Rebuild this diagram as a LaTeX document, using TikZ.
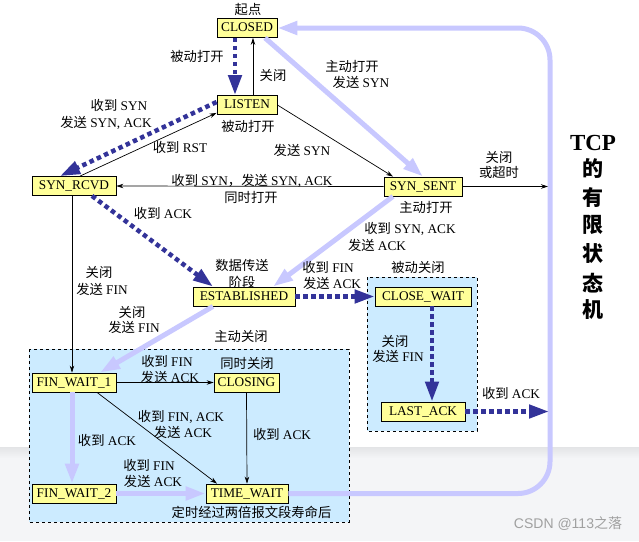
\documentclass[tikz,border=0pt]{standalone}
\usepackage{fontspec}
\setmainfont{Liberation Serif}
\newfontfamily\cjk{Noto Sans CJK SC}
\newfontfamily\wmsans{Liberation Sans}
\usetikzlibrary{arrows.meta}
\definecolor{lav}{HTML}{C8C8FF}
\definecolor{dblue}{HTML}{333399}
\definecolor{boxfill}{HTML}{FFFF99}
\definecolor{zonefill}{HTML}{CCEBFF}
\definecolor{bandgrey}{HTML}{F4F5F7}
\definecolor{banddark}{HTML}{E3E4E6}
\definecolor{wmgrey}{HTML}{A0A0A0}
\newcommand{\zh}[1]{{\cjk #1}}
\begin{document}
\begin{tikzpicture}[x=1pt,y=-1pt,
  state/.style={draw=black, fill=boxfill, line width=0.8pt, minimum height=19pt,
    inner sep=0pt, font=\fontsize{13.3}{15}\selectfont, text height=10pt, text depth=3pt},
  lbl/.style={inner sep=0pt, font=\fontsize{13.3}{15}\selectfont, text height=11pt, text depth=2pt},
  title/.style={inner sep=0pt, font=\fontsize{21}{24}\selectfont\bfseries},
  tline/.style={draw=black, line width=0.7pt, -{Stealth[length=7pt,width=4.5pt]}},
  pas/.style={draw=lav, line width=5pt, -{Triangle[length=20pt,width=13pt]}},
  act/.style={draw=dblue, line width=4.5pt, dash pattern=on 4.5pt off 3.5pt, -{Triangle[length=20pt,width=13pt]}},
  zone/.style={draw=black, fill=zonefill, dashed, line width=0.7pt}
]
\useasboundingbox (0,0) rectangle (639,541);
% background
\fill[white] (0,0) rectangle (639,541);
\fill[bandgrey] (0,447) rectangle (639,541);
\shade[top color=banddark, bottom color=bandgrey] (0,447) rectangle (639,458);
% zones
\draw[zone] (29,349) rectangle (349,522);
\draw[zone] (367,277) rectangle (477,431);

% labels placed under boxes
\node[lbl] (lDS1) at (242,266) {\zh{数据传送}};
\node[lbl] (lDS2) at (242,283) {\zh{阶段}};

% states
\node[state, minimum width=60pt] (CLOSED) at (247,28) {CLOSED};
\node[state, minimum width=60pt] (LISTEN) at (247,105) {LISTEN};
\node[state, minimum width=84pt] (SYNR) at (74,186) {SYN\_RCVD};
\node[state, minimum width=78pt] (SYNS) at (423,186.5) {SYN\_SENT};
\node[state, minimum width=102pt] (EST) at (244,296.5) {ESTABLISHED};
\node[state, minimum width=96pt] (CW) at (423,296.5) {CLOSE\_WAIT};
\node[state, minimum width=84pt] (LA) at (423,411.5) {LAST\_ACK};
\node[state, minimum width=84pt] (FW1) at (74,382.5) {FIN\_WAIT\_1};
\node[state, minimum width=65pt] (CLOSING) at (246.5,382.5) {CLOSING};
\node[state, minimum width=84pt] (FW2) at (74,493.5) {FIN\_WAIT\_2};
\node[state, minimum width=82pt] (TW) at (247,493.5) {TIME\_WAIT};

\coordinate (ssend) at (548,186.5);
\coordinate (laend) at (549,411.5);

% passive (light blue) transitions
\draw[pas] ([xshift=18pt]CLOSED.south) -- (SYNS.north);
\draw[pas] ([xshift=-30pt]SYNS.south) -- ([xshift=29pt]EST.north);
\draw[pas] ([xshift=-31pt]EST.south) -- ([xshift=26pt]FW1.north);
\draw[pas] ([xshift=-2pt]FW1.south) -- ([xshift=-2pt]FW2.north);
\draw[pas] (FW2.east) -- (TW.west);
\draw[pas, rounded corners=32pt] (TW.east) -- (550,493.5) -- (550,28) -- (CLOSED.east);

% active (dark blue dotted) transitions
\draw[act] ([xshift=-12pt]CLOSED.south) -- ([xshift=-12pt]LISTEN.north);
\draw[act] ([yshift=3pt]LISTEN.west) -- ([xshift=-14pt]SYNR.north);
\draw[act] ([xshift=18pt]SYNR.south) -- ([xshift=-31pt]EST.north);
\draw[act] (EST.east) -- (CW.west);
\draw[act] ([xshift=9pt]CW.south) -- ([xshift=9pt]LA.north);
\draw[act] (LA.east) -- (laend);

% thin transitions
\draw[tline] ([xshift=6pt]LISTEN.north) -- ([xshift=6pt]CLOSED.south);
\draw[tline] (LISTEN.east) -- ([xshift=-30pt]SYNS.north);
\draw[tline] ([xshift=6pt]SYNR.north) -- ([yshift=2pt]LISTEN.south west);
\draw[tline] (SYNS.west) -- (SYNR.east);
\draw[tline] (SYNS.east) -- (ssend);
\draw[tline] ([xshift=-2pt]SYNR.south) -- ([xshift=-2pt]FW1.north);
\draw[tline] (FW1.east) -- (CLOSING.west);
\draw[tline] ([xshift=23pt]FW1.south) -- ([xshift=-30pt]TW.north);
\draw[tline] (CLOSING.south) -- (TW.north);

% labels
\node[lbl] (l1) at (248,10) {\zh{起点}};
\node[lbl] (l2) at (197,57) {\zh{被动打开}};
\node[lbl] (l3) at (273,76) {\zh{关闭}};
\node[lbl] (l4) at (119,106) {\zh{收到} SYN};
\node[lbl] (l5) at (106,123) {\zh{发送} SYN, ACK};
\node[lbl] (l6) at (248,127) {\zh{被动打开}};
\node[lbl] (l7) at (180,148) {\zh{收到} RST};
\node[lbl] (l8) at (352,67) {\zh{主动打开}};
\node[lbl] (l9) at (361,83) {\zh{发送} SYN};
\node[lbl] (l10) at (302,151) {\zh{发送} SYN};
\node[lbl] (l11) at (252,181) {\zh{收到} SYN\zh{，发送} SYN, ACK};
\node[lbl] (l12) at (251,198) {\zh{同时打开}};
\node[lbl] (l13) at (499,158) {\zh{关闭}};
\node[lbl] (l14) at (499,173) {\zh{或超时}};
\node[lbl] (l15) at (426,208) {\zh{主动打开}};
\node[lbl] (l16) at (163,214) {\zh{收到} ACK};
\node[lbl] (l17) at (410,229) {\zh{收到} SYN, ACK};
\node[lbl] (l18) at (377,246) {\zh{发送} ACK};
\node[lbl] (l19) at (418,268) {\zh{被动关闭}};
\node[lbl] (l20) at (328,268) {\zh{收到} FIN};
\node[lbl] (l21) at (332,284) {\zh{发送} ACK};
\node[lbl] (l22) at (99,273) {\zh{关闭}};
\node[lbl] (l23) at (102,290) {\zh{发送} FIN};
\node[lbl] (l24) at (132,313) {\zh{关闭}};
\node[lbl] (l25) at (134,328) {\zh{发送} FIN};
\node[lbl] (l26) at (241,337) {\zh{主动关闭}};
\node[lbl] (l27) at (395,342) {\zh{关闭}};
\node[lbl] (l28) at (398,357) {\zh{发送} FIN};
\node[lbl] (l29) at (167,362) {\zh{收到} FIN};
\node[lbl] (l30) at (170,378) {\zh{发送} ACK};
\node[lbl] (l31) at (247,364) {\zh{同时关闭}};
\node[lbl] (l32) at (511,394) {\zh{收到} ACK};
\node[lbl] (l33) at (181,417) {\zh{收到} FIN, ACK};
\node[lbl] (l34) at (183,433) {\zh{发送} ACK};
\node[lbl] (l35) at (282,435) {\zh{收到} ACK};
\node[lbl] (l36) at (107,441) {\zh{收到} ACK};
\node[lbl] (l37) at (149,466) {\zh{收到} FIN};
\node[lbl] (l38) at (153,482) {\zh{发送} ACK};
\node[lbl] (l39) at (251.5,513) {\zh{定时经过两倍报文段寿命后}};

% title
\node[inner sep=0pt, font=\fontsize{23}{26}\selectfont\bfseries] (t0) at (593,143) {TCP};
\node[title] (t1) at (593,169) {\zh{的}};
\node[title] (t2) at (593,198) {\zh{有}};
\node[title] (t3) at (593,225) {\zh{限}};
\node[title] (t4) at (593,253) {\zh{状}};
\node[title] (t5) at (593,283) {\zh{态}};
\node[title] (t6) at (593,310) {\zh{机}};

% watermark
\node[inner sep=0pt, text=wmgrey, font=\fontsize{14}{16}\selectfont\wmsans] (wm) at (568,524) {CSDN @113\zh{之落}};
\end{tikzpicture}
\end{document}
